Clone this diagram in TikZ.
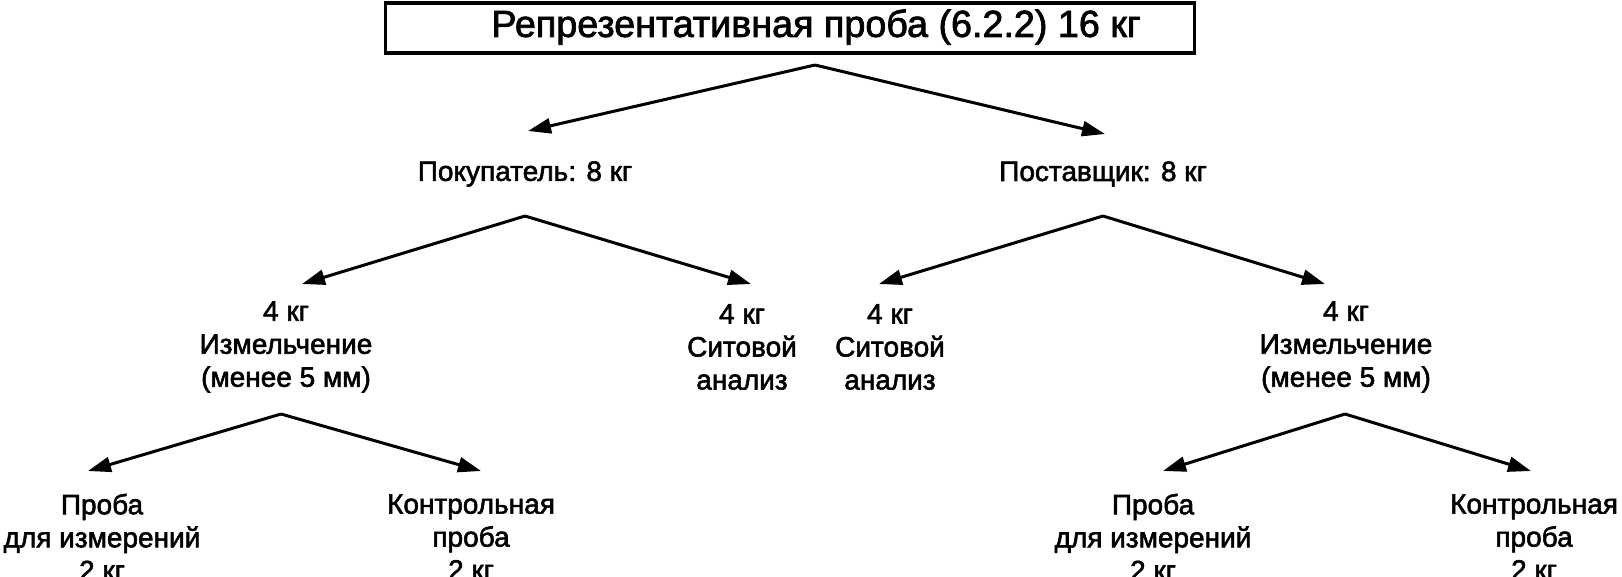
\documentclass[tikz,border=0pt]{standalone}
\usepackage{fontspec}
\setmainfont{Liberation Sans}[FakeBold=2]
\newfontfamily\titlefont{Liberation Sans}[FakeBold=2]
\usetikzlibrary{arrows.meta}
\tikzset{
  lbl/.style={align=center, inner sep=0pt, font=\fontsize{28}{33}\selectfont},
  conn/.style={line width=3pt, -{Triangle[length=23pt,width=15pt]}},
  titlebox/.style={draw, line width=3.5pt, minimum width=809pt, minimum height=50pt, inner sep=0pt}
}
\begin{document}
\begin{tikzpicture}[x=1pt,y=-1pt]
\useasboundingbox (0,0) rectangle (1622,576);
\node[titlebox] (top) at (790,28) {};
\node[inner sep=0pt, font=\titlefont\fontsize{37.7}{40}\selectfont] (toptext) at (816,27) {Репрезентативная проба (6.2.2) 16 кг};
\coordinate (a0) at (815,65);
\coordinate (t0l) at (528,131);
\coordinate (t0r) at (1105,134);
\node[lbl] (buy) at (525,174) {Покупатель: 8 кг};
\node[lbl] (sup) at (1103,174) {Поставщик: 8 кг};
\coordinate (a1) at (525,216);
\coordinate (t1l) at (302,284);
\coordinate (t1r) at (751,284);
\coordinate (a2) at (1103,216);
\coordinate (t2l) at (879,284);
\coordinate (t2r) at (1325,284);
\node[lbl] (grindL) at (286,347) {4 кг\\Измельчение\\(менее 5 мм)};
\node[lbl] (sieveL) at (742,347) {4 кг\\Ситовой\\анализ};
\node[lbl] (sieveR) at (890,347) {4 кг\\Ситовой\\анализ};
\node[lbl] (grindR) at (1346,347) {4 кг\\Измельчение\\(менее 5 мм)};
\coordinate (a3) at (281,414);
\coordinate (t3l) at (88,471);
\coordinate (t3r) at (481,471);
\coordinate (a4) at (1345,414);
\coordinate (t4l) at (1163,471);
\coordinate (t4r) at (1531,471);
\node[lbl] (measL) at (102,537) {Проба\\для измерений\\2 кг};
\node[lbl] (ctrlL) at (471,537) {Контрольная\\проба\\2 кг};
\node[lbl] (measR) at (1153,537) {Проба\\для измерений\\2 кг};
\node[lbl] (ctrlR) at (1534,537) {Контрольная\\проба\\2 кг};
\draw[conn] (a0) -- (t0l);
\draw[conn] (a0) -- (t0r);
\draw[conn] (a1) -- (t1l);
\draw[conn] (a1) -- (t1r);
\draw[conn] (a2) -- (t2l);
\draw[conn] (a2) -- (t2r);
\draw[conn] (a3) -- (t3l);
\draw[conn] (a3) -- (t3r);
\draw[conn] (a4) -- (t4l);
\draw[conn] (a4) -- (t4r);
\end{tikzpicture}
\end{document}
